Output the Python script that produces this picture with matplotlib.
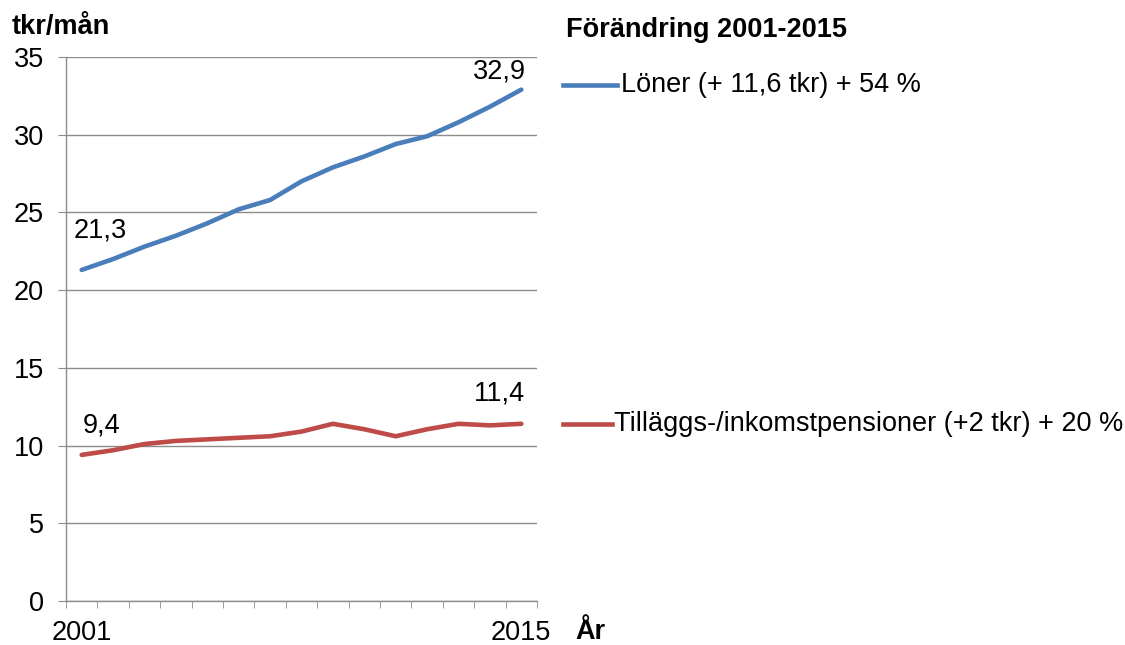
import matplotlib
matplotlib.use("Agg")
from matplotlib import pyplot
from matplotlib.lines import Line2D
from matplotlib.ticker import FixedLocator, NullFormatter

pyplot.rcParams['font.family'] = ['Liberation Sans', 'DejaVu Sans']

years = list(range(2001, 2016))
loner = [21.3, 22.0, 22.8, 23.5, 24.3, 25.2, 25.8, 27.0, 27.9, 28.6, 29.4, 29.9, 30.8, 31.8, 32.9]
pension = [9.4, 9.7, 10.1, 10.3, 10.4, 10.5, 10.6, 10.9, 11.4, 11.05, 10.6, 11.05, 11.4, 11.3, 11.4]
loner_label = "Löner (+ 11,6 tkr) + 54 %"
pension_label = "Tilläggs-/inkomstpensioner (+2 tkr) + 20 %"
blue = "#4A7EBB"
red = "#BE4B48"
grid_col = "#8C8C8C"
fs = 19.5

W, H = 1125, 645
fig = pyplot.figure(figsize=(W / 100, H / 100), dpi=100)
ax = fig.add_axes([66 / W, (H - 601) / H, (537 - 66) / W, (601 - 57) / H])

x = list(range(len(years)))
ax.plot(x, loner, color=blue, linewidth=3.3, solid_capstyle="round")
ax.plot(x, pension, color=red, linewidth=3.3, solid_capstyle="round")

ax.set_xlim(-0.5, len(years) - 0.5)
ax.set_ylim(0, 35)
ax.set_yticks(range(0, 36, 5))
ax.grid(axis="y", color=grid_col, linewidth=1)
ax.set_axisbelow(True)

ax.set_xticks([0, len(years) - 1])
ax.set_xticklabels([str(years[0]), str(years[-1])])
ax.xaxis.set_minor_locator(FixedLocator([i - 0.5 for i in range(len(years) + 1)]))
ax.xaxis.set_minor_formatter(NullFormatter())
ax.tick_params(axis="x", which="major", length=0, pad=14, labelsize=fs)
ax.tick_params(axis="x", which="minor", length=5, color=grid_col, direction="out")
ax.tick_params(axis="y", length=6, color=grid_col, labelsize=fs, pad=10)

for side in ["top", "right"]:
    ax.spines[side].set_visible(False)
for side in ["left", "bottom"]:
    ax.spines[side].set_color(grid_col)
    ax.spines[side].set_linewidth(1)

# data labels at the ends (offsets in pixels)
ax.annotate("21,3", (x[0], loner[0]), xytext=(19, 39), textcoords="offset pixels",
            ha="center", va="center", fontsize=fs)
ax.annotate("32,9", (x[-1], loner[-1]), xytext=(-22, 18), textcoords="offset pixels",
            ha="center", va="center", fontsize=fs)
ax.annotate("9,4", (x[0], pension[0]), xytext=(20, 29), textcoords="offset pixels",
            ha="center", va="center", fontsize=fs)
ax.annotate("11,4", (x[-1], pension[-1]), xytext=(-22, 30), textcoords="offset pixels",
            ha="center", va="center", fontsize=fs)

fig.text(12 / W, 1 - 27 / H, "tkr/mån", fontsize=fs, fontweight="bold", va="center", ha="left")
fig.text(575 / W, 1 - 632 / H, "År", fontsize=fs, fontweight="bold", va="center", ha="left")

# legend placed beside the lines
fig.text(566 / W, 1 - 30 / H, "Förändring 2001-2015", fontsize=fs, fontweight="bold", va="center", ha="left")
fig.add_artist(Line2D([563 / W, 617 / W], [1 - 85 / H, 1 - 85 / H], color=blue, linewidth=3.3))
fig.text(621 / W, 1 - 85 / H, loner_label, fontsize=fs, va="center", ha="left")
fig.add_artist(Line2D([563 / W, 612 / W], [1 - 424 / H, 1 - 424 / H], color=red, linewidth=3.3))
fig.text(614 / W, 1 - 424 / H, pension_label, fontsize=fs, va="center", ha="left")

fig.savefig("out.png", dpi=100)
